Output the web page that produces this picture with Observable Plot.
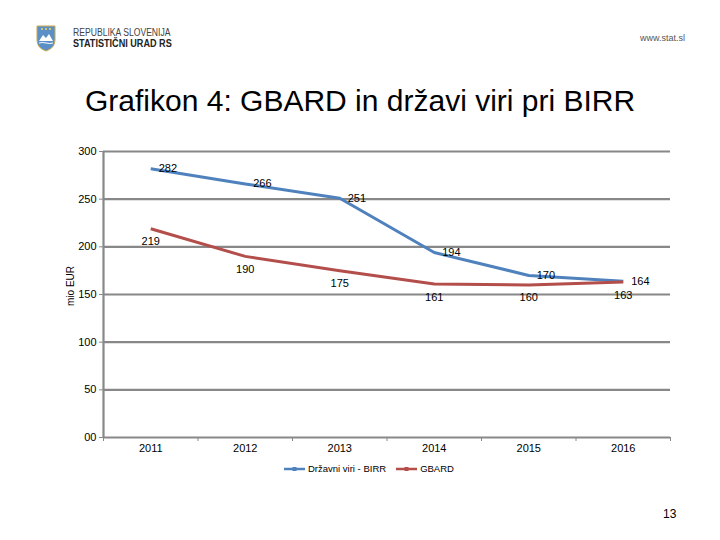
<!DOCTYPE html>
<html><head><meta charset="utf-8">
<script src="https://cdn.jsdelivr.net/npm/d3@7"></script>
<script src="https://cdn.jsdelivr.net/npm/@observablehq/plot@0.6"></script>
<style>
body{margin:0;width:720px;height:540px;position:relative;background:#fff;font-family:"Liberation Sans",Arial,sans-serif;overflow:hidden}
.abs{position:absolute;white-space:nowrap}
</style></head><body>
<div class="abs" style="left:35px;top:24px">
<svg width="22" height="28" viewBox="0 0 22 28"><path d="M2 2 H20 V16 Q20 24 11 27 Q2 24 2 16 Z" fill="#5b8fc7" stroke="#c9a94a" stroke-width="1"/><path d="M4 17 L8 11 L11 14 L14 10 L18 17 Z" fill="#fff"/><path d="M4 19 Q7 18 11 19 Q15 20 18 19" stroke="#fff" stroke-width="1" fill="none"/><circle cx="7" cy="5" r="1" fill="#f3d35a"/><circle cx="11" cy="5" r="1" fill="#f3d35a"/><circle cx="15" cy="5" r="1" fill="#f3d35a"/></svg>
</div>
<div class="abs" style="left:73px;top:27px;font-size:10px;color:#444;transform:scaleX(0.86);transform-origin:left center">REPUBLIKA SLOVENIJA</div>
<div class="abs" style="left:73px;top:38px;font-size:10px;color:#222;font-weight:bold;transform:scaleX(0.91);transform-origin:left center">STATISTIČNI URAD RS</div>
<div class="abs" style="left:640px;top:33px;font-size:9px;color:#555">www.stat.sl</div>
<div class="abs" style="left:85px;top:84px;font-size:30px;color:#000">Grafikon 4: GBARD in državi viri pri BIRR</div>
<div class="abs" style="left:70px;top:286px;font-size:10px;color:#000;transform:translate(-50%,-50%) rotate(-90deg)">mio EUR</div>
<div id="chart" class="abs" style="left:0;top:140px"></div>
<div id="legend" class="abs" style="left:283px;top:463px;font-size:9.5px;color:#000;display:flex;align-items:center"></div>
<div class="abs" style="left:663px;top:507px;font-size:12px;color:#000">13</div>
<script>
const years = [2011, 2012, 2013, 2014, 2015, 2016];
const seriesNames = ["Državni viri - BIRR", "GBARD"];
const drzavniViri = [282, 266, 251, 194, 170, 164];
const gbard = [219, 190, 175, 161, 160, 163];
const yTicks = [0, 50, 100, 150, 200, 250, 300];
const yTickLabels = ["00", "50", "100", "150", "200", "250", "300"];
const colors = ["#4F81BD", "#B34E4B"];

const rows = years.flatMap((yr, i) => [
  {year: yr, value: drzavniViri[i], series: seriesNames[0]},
  {year: yr, value: gbard[i], series: seriesNames[1]}
]);
const bounds = [...years.map(y => y - 0.5), years[years.length - 1] + 0.5];
const grid = "#888888";

const plot = Plot.plot({
  width: 720, height: 320,
  marginTop: 11, marginBottom: 23, marginLeft: 103, marginRight: 50,
  style: {fontFamily: "Liberation Sans, Arial, sans-serif", fontSize: "11px", color: "#000", background: "transparent", overflow: "visible"},
  x: {type: "linear", domain: [bounds[0], bounds[bounds.length - 1]]},
  y: {domain: [0, 300]},
  color: {domain: seriesNames, range: colors},
  marks: [
    Plot.ruleY(yTicks, {stroke: grid, strokeWidth: 2.2}),
    Plot.ruleX([bounds[0]], {stroke: grid, strokeWidth: 2.2}),
    Plot.axisY({ticks: yTicks, tickFormat: d => yTickLabels[yTicks.indexOf(d)], tickSize: 4, tickPadding: 3, stroke: grid, label: null}),
    Plot.axisX({ticks: bounds, tickFormat: () => "", tickSize: 4, stroke: grid, label: null}),
    Plot.axisX({ticks: years, tickFormat: d => String(d), tickSize: 0, tickPadding: 7, label: null}),
    Plot.line(rows, {x: "year", y: "value", stroke: "series", strokeWidth: 3, curve: "linear", strokeLinejoin: "round", strokeLinecap: "butt"}),
    Plot.text(rows.filter(d => d.series === seriesNames[0]), {x: "year", y: "value", text: d => String(d.value), textAnchor: "start", dx: 8, dy: 0, fill: "#000"}),
    Plot.text(rows.filter(d => d.series === seriesNames[1]), {x: "year", y: "value", text: d => String(d.value), textAnchor: "middle", dy: 13, fill: "#000"})
  ]
});
document.getElementById("chart").appendChild(plot);

const legend = document.getElementById("legend");
seriesNames.forEach((name, i) => {
  const item = document.createElement("span");
  item.style.display = "inline-flex";
  item.style.alignItems = "center";
  item.style.marginRight = "9px";
  item.innerHTML = `<svg width="23" height="8" style="margin-right:2px"><line x1="1" y1="4" x2="22" y2="4" stroke="${colors[i]}" stroke-width="2.5"/><rect x="9.5" y="2" width="4" height="4" fill="${colors[i]}"/></svg>`;
  const t = document.createElement("span");
  t.textContent = name;
  item.appendChild(t);
  legend.appendChild(item);
});
</script>
</body></html>
